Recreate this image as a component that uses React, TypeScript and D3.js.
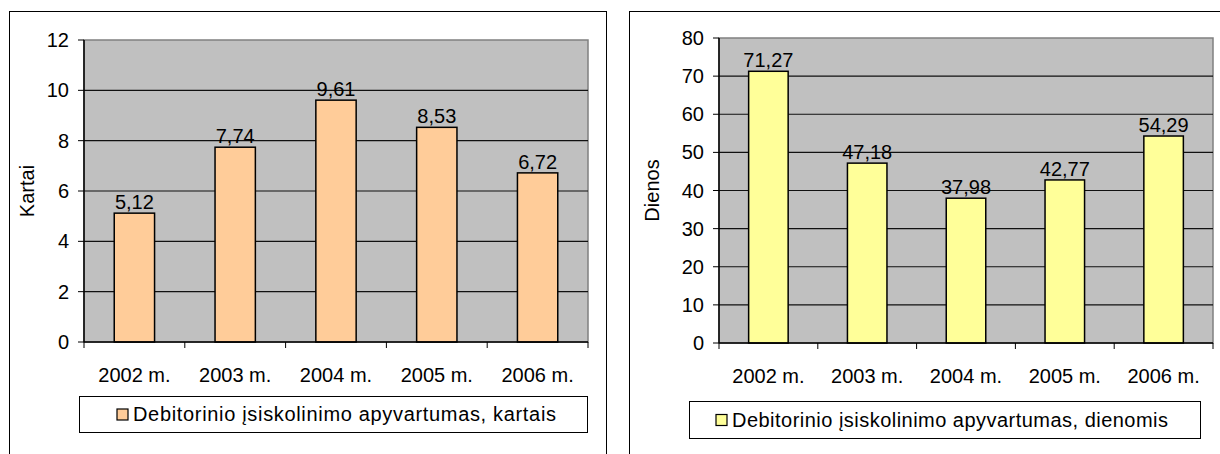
import React from "react";
import * as d3 from "d3";

const years = ["2002 m.", "2003 m.", "2004 m.", "2005 m.", "2006 m."];
const timesValues = [5.12, 7.74, 9.61, 8.53, 6.72];
const daysValues = [71.27, 47.18, 37.98, 42.77, 54.29];
const timesTicks = [0, 2, 4, 6, 8, 10, 12];
const daysTicks = [0, 10, 20, 30, 40, 50, 60, 70, 80];

const lt = d3.formatLocale({
  decimal: ",",
  thousands: " ",
  grouping: [3],
  currency: ["", ""],
});
const fmt = lt.format(".2f");

const FONT = "'Liberation Sans', Arial, sans-serif";
const FS = 20;

interface ChartProps {
  values: number[];
  ticks: number[];
  color: string;
  axisTitle: string;
  legend: string;
  frame: { x: number; y: number; w: number; h: number };
  plot: { x0: number; x1: number; y0: number; y1: number };
  leg: { x: number; y: number; w: number; h: number; sw: number; tl: number };
  titleX: number;
}

const Chart = ({ values, ticks, color, axisTitle, legend, frame, plot, leg, titleX }: ChartProps) => {
  const x = d3
    .scaleBand<string>()
    .domain(years)
    .range([plot.x0, plot.x1])
    .paddingInner(0.6)
    .paddingOuter(0.3);
  const y = d3
    .scaleLinear()
    .domain([0, ticks[ticks.length - 1]])
    .range([plot.y1, plot.y0]);
  const step = x.step();
  const bounds = d3.range(years.length + 1).map((i) => plot.x0 + i * step);

  return (
    <g fontFamily={FONT}>
      <rect x={frame.x + 0.5} y={frame.y + 0.5} width={frame.w} height={frame.h} fill="#fff" stroke="#000" />
      {/* plot area */}
      <rect
        x={plot.x0}
        y={plot.y0}
        width={plot.x1 - plot.x0}
        height={plot.y1 - plot.y0}
        fill="#c0c0c0"
        stroke="#808080"
        strokeWidth={1.5}
      />
      {ticks.map((t) => (
        <g key={t}>
          {t > 0 && t < ticks[ticks.length - 1] && (
            <line x1={plot.x0} x2={plot.x1} y1={y(t)} y2={y(t)} stroke="#111" strokeWidth={1.2} />
          )}
          <line x1={plot.x0 - 6} x2={plot.x0} y1={y(t)} y2={y(t)} stroke="#000" />
          <text x={plot.x0 - 15} y={y(t) + 7} textAnchor="end" fontSize={FS} fill="#000">
            {t}
          </text>
        </g>
      ))}
      {/* bars */}
      {values.map((v, i) => (
        <g key={years[i]}>
          <rect
            x={x(years[i])}
            y={y(v)}
            width={x.bandwidth()}
            height={y(0) - y(v)}
            fill={color}
            stroke="#000"
            strokeWidth={1.5}
          />
          <text
            x={(x(years[i]) ?? 0) + x.bandwidth() / 2}
            y={y(v) - 4}
            textAnchor="middle"
            fontSize={FS}
            fill="#000"
          >
            {fmt(v)}
          </text>
          <text
            x={(x(years[i]) ?? 0) + x.bandwidth() / 2}
            y={plot.y1 + 40}
            textAnchor="middle"
            fontSize={FS}
            fill="#000"
          >
            {years[i]}
          </text>
        </g>
      ))}
      {/* axes */}
      <line x1={plot.x0} x2={plot.x0} y1={plot.y0} y2={plot.y1} stroke="#000" strokeWidth={1.5} />
      <line x1={plot.x0} x2={plot.x1} y1={plot.y1} y2={plot.y1} stroke="#000" strokeWidth={1.5} />
      {bounds.map((b, i) => (
        <line key={i} x1={b} x2={b} y1={plot.y1} y2={plot.y1 + 6} stroke="#000" />
      ))}
      <text
        transform={`translate(${titleX},${(plot.y0 + plot.y1) / 2}) rotate(-90)`}
        textAnchor="middle"
        dy="0.35em"
        fontSize={FS}
        fill="#000"
      >
        {axisTitle}
      </text>
      {/* legend */}
      <rect x={leg.x + 0.5} y={leg.y + 0.5} width={leg.w} height={leg.h} fill="#fff" stroke="#000" />
      <rect
        x={leg.x + leg.sw}
        y={leg.y + leg.h / 2 - 5}
        width={11}
        height={11}
        fill={color}
        stroke="#000"
        strokeWidth={1.2}
      />
      <text
        x={leg.x + leg.sw + 16}
        y={leg.y + leg.h / 2 + 7}
        fontSize={FS}
        fill="#000"
        textLength={leg.tl}
        lengthAdjust="spacing"
      >
        {legend}
      </text>
    </g>
  );
};

export default function App() {
  return (
    <svg
      width={1220}
      height={454}
      style={{ position: "absolute", left: 0, top: 0, background: "#fff" }}
    >
      <Chart
        values={timesValues}
        ticks={timesTicks}
        color="#ffcc99"
        axisTitle="Kartai"
        legend="Debitorinio įsiskolinimo apyvartumas, kartais"
        frame={{ x: 9, y: 11, w: 597, h: 500 }}
        plot={{ x0: 84, x1: 588, y0: 40, y1: 342 }}
        leg={{ x: 79, y: 396, w: 508, h: 36, sw: 38, tl: 423 }}
        titleX={27}
      />
      <Chart
        values={daysValues}
        ticks={daysTicks}
        color="#ffff99"
        axisTitle="Dienos"
        legend="Debitorinio įsiskolinimo apyvartumas, dienomis"
        frame={{ x: 629, y: 11, w: 620, h: 500 }}
        plot={{ x0: 719, x1: 1213, y0: 38, y1: 343 }}
        leg={{ x: 689, y: 401, w: 511, h: 37, sw: 27, tl: 436 }}
        titleX={652}
      />
    </svg>
  );
}
